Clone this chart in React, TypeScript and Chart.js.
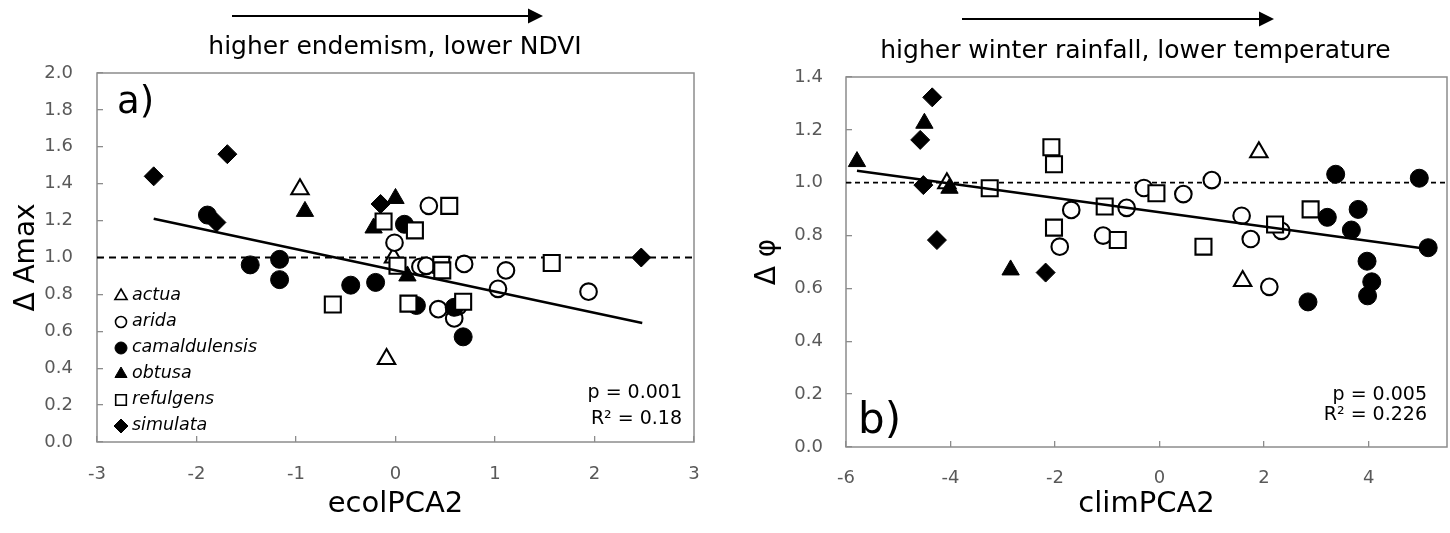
import React, { useEffect, useRef } from "react";
import { Chart, registerables } from "chart.js";

Chart.register(...registerables);

const FONT = '"DejaVu Sans", "Liberation Sans", Arial, sans-serif';

// ---------------- shared ----------------
const speciesNames = ["actua", "arida", "camaldulensis", "obtusa", "refulgens", "simulata"];

// ---------------- panel a ----------------
const aXTicks = [-3, -2, -1, 0, 1, 2, 3];
const aYTicks = [0, 0.2, 0.4, 0.6, 0.8, 1.0, 1.2, 1.4, 1.6, 1.8, 2.0];
const aActuaX = [-0.96, -0.02, -0.09];
const aActuaY = [1.37, 1.0, 0.45];
const aAridaX = [-0.01, 0.335, 0.25, 0.31, 0.69, 1.11, 1.03, 1.94, 0.43, 0.59, 0.63];
const aAridaY = [1.08, 1.28, 0.95, 0.955, 0.965, 0.93, 0.83, 0.815, 0.72, 0.67, 0.735];
const aCamX = [-1.89, -1.46, -1.165, -1.165, -0.45, -0.2, 0.09, 0.21, 0.59, 0.68];
const aCamY = [1.23, 0.96, 0.99, 0.88, 0.85, 0.865, 1.18, 0.74, 0.73, 0.57];
const aObtX = [-0.91, 0.0, -0.22, 0.12];
const aObtY = [1.25, 1.32, 1.16, 0.9];
const aRefX = [-0.12, 0.195, 0.54, 0.02, 0.46, 0.47, 1.57, 0.13, 0.68, -0.63];
const aRefY = [1.195, 1.147, 1.28, 0.955, 0.96, 0.93, 0.97, 0.75, 0.76, 0.745];
const aSimX = [-2.43, -1.69, -1.8, -0.15, 2.47];
const aSimY = [1.44, 1.56, 1.19, 1.29, 1.0];
const aTrendX = [-2.43, 2.48];
const aTrendY = [1.21, 0.645];
const aStats = ["p = 0.001", "R\u00B2 = 0.18"];

// ---------------- panel b ----------------
const bXTicks = [-6, -4, -2, 0, 2, 4];
const bYTicks = [0, 0.2, 0.4, 0.6, 0.8, 1.0, 1.2, 1.4];
const bActuaX = [-4.07, 1.9, 1.59];
const bActuaY = [0.998, 1.115, 0.628];
const bAridaX = [-1.69, -1.91, -1.08, -0.63, -0.3, 0.455, 1.0, 1.57, 1.745, 2.33, 2.1];
const bAridaY = [0.897, 0.758, 0.8, 0.905, 0.98, 0.957, 1.01, 0.875, 0.787, 0.818, 0.606];
const bCamX = [3.37, 4.97, 3.21, 3.8, 3.67, 5.14, 3.97, 4.06, 3.98, 2.84];
const bCamY = [1.032, 1.017, 0.869, 0.899, 0.821, 0.754, 0.703, 0.625, 0.572, 0.549];
const bObtX = [-5.79, -4.5, -4.02, -2.85];
const bObtY = [1.08, 1.225, 0.979, 0.67];
const bRefX = [-3.25, -2.07, -2.02, -2.02, -1.05, -0.8, -0.06, 0.84, 2.21, 2.89];
const bRefY = [0.979, 1.134, 1.07, 0.83, 0.91, 0.783, 0.96, 0.758, 0.842, 0.899];
const bSimX = [-4.35, -4.58, -4.52, -4.26, -2.18];
const bSimY = [1.323, 1.162, 0.991, 0.783, 0.66];
const bTrendX = [-5.79, 5.13];
const bTrendY = [1.045, 0.749];
const bStats = ["p = 0.005", "R\u00B2 = 0.226"];

// ---------------- styles ----------------
type Marker = { shape: string; filled: boolean; r: number; lr: number };
const markerStyle: Record<string, Marker> = {
  actua: { shape: "triangle", filled: false, r: 10, lr: 7 },
  arida: { shape: "circle", filled: false, r: 8.3, lr: 5.5 },
  camaldulensis: { shape: "circle", filled: true, r: 9, lr: 6 },
  obtusa: { shape: "triangle", filled: true, r: 10, lr: 7 },
  refulgens: { shape: "rect", filled: false, r: 11.3, lr: 7.5 },
  simulata: { shape: "rectRot", filled: true, r: 9.5, lr: 7 },
};

type Series = { name: string; xs: number[]; ys: number[] };
type PanelCfg = {
  left: number;
  series: Series[];
  trendX: number[];
  trendY: number[];
  refY: number;
  refDash: number[];
  refWidth: number;
  xMin: number;
  xMax: number;
  xTicks: number[];
  yMin: number;
  yMax: number;
  yTicks: number[];
  xTitle: string;
  yTitle: string;
  header: string;
  label: string;
  stats: string[];
  showLegend: boolean;
  lay: {
    padTop: number;
    padRight: number;
    yAxisW: number;
    xAxisH: number;
    yTickPad: number;
    xTickPad: number;
    yTitlePad: number;
    xTitlePad: number;
    arrowX1: number;
    arrowX2: number;
    arrowY: number;
    headerX: number;
    headerY: number;
    labelX: number;
    labelY: number;
    labelSize: number;
    statsX: number;
    statsY: number[];
    legendX: number;
    legendY: number;
    legendStep: number;
  };
};

function drawShape(ctx: CanvasRenderingContext2D, shape: string, x: number, y: number, r: number, filled: boolean) {
  ctx.beginPath();
  if (shape === "circle") {
    ctx.arc(x, y, r, 0, Math.PI * 2);
  } else if (shape === "triangle") {
    ctx.moveTo(x, y - r);
    ctx.lineTo(x + r * 0.866, y + r * 0.5);
    ctx.lineTo(x - r * 0.866, y + r * 0.5);
    ctx.closePath();
  } else if (shape === "rect") {
    const s = r * Math.SQRT1_2;
    ctx.rect(x - s, y - s, 2 * s, 2 * s);
  } else {
    ctx.moveTo(x, y - r);
    ctx.lineTo(x + r, y);
    ctx.lineTo(x, y + r);
    ctx.lineTo(x - r, y);
    ctx.closePath();
  }
  ctx.fillStyle = filled ? "#000" : "#fff";
  ctx.fill();
  ctx.lineWidth = filled ? 1 : 1.6;
  ctx.strokeStyle = "#000";
  ctx.stroke();
}

function makePlugin(cfg: PanelCfg) {
  const L = cfg.lay;
  return {
    id: "panelDecor",
    beforeDatasetsDraw(chart: any) {
      const { ctx, chartArea } = chart;
      ctx.save();
      ctx.strokeStyle = "#8c8c8c";
      ctx.lineWidth = 1.5;
      ctx.strokeRect(chartArea.left, chartArea.top, chartArea.right - chartArea.left, chartArea.bottom - chartArea.top);
      ctx.restore();
    },
    afterDraw(chart: any) {
      const ctx: CanvasRenderingContext2D = chart.ctx;
      ctx.save();
      // header arrow
      ctx.strokeStyle = "#000";
      ctx.fillStyle = "#000";
      ctx.lineWidth = 2;
      ctx.beginPath();
      ctx.moveTo(L.arrowX1, L.arrowY);
      ctx.lineTo(L.arrowX2 - 12, L.arrowY);
      ctx.stroke();
      ctx.beginPath();
      ctx.moveTo(L.arrowX2 - 15, L.arrowY - 7.5);
      ctx.lineTo(L.arrowX2, L.arrowY);
      ctx.lineTo(L.arrowX2 - 15, L.arrowY + 7.5);
      ctx.closePath();
      ctx.fill();
      // header text
      ctx.font = `25px ${FONT}`;
      ctx.textAlign = "center";
      ctx.textBaseline = "alphabetic";
      ctx.fillText(cfg.header, L.headerX, L.headerY);
      // panel label
      ctx.font = `${L.labelSize}px ${FONT}`;
      ctx.textAlign = "left";
      ctx.fillText(cfg.label, L.labelX, L.labelY);
      // stats
      ctx.font = `19px ${FONT}`;
      ctx.textAlign = "right";
      cfg.stats.forEach((s, i) => ctx.fillText(s, L.statsX, L.statsY[i]));
      // legend
      if (cfg.showLegend) {
        ctx.font = `italic 17.5px ${FONT}`;
        ctx.textAlign = "left";
        ctx.textBaseline = "middle";
        cfg.series.forEach((s, i) => {
          const m = markerStyle[s.name];
          const y = L.legendY + i * L.legendStep;
          drawShape(ctx, m.shape, L.legendX, y + 1, m.lr, m.filled);
          ctx.fillStyle = "#000";
          ctx.fillText(s.name, L.legendX + 11, y);
        });
      }
      ctx.restore();
    },
  };
}

function buildConfig(cfg: PanelCfg): any {
  const L = cfg.lay;
  const n = cfg.series.length;
  const pointSets = cfg.series.map((s, i) => {
    const m = markerStyle[s.name];
    return {
      label: s.name,
      data: s.xs.map((x, j) => ({ x, y: s.ys[j] })),
      pointStyle: m.shape,
      pointRadius: m.r,
      pointBackgroundColor: m.filled ? "#000" : "#fff",
      pointBorderColor: "#000",
      pointBorderWidth: m.filled ? 1 : 2.1,
      showLine: false,
      clip: false,
      order: n - i + 1,
    };
  });
  const trend = {
    label: "trend",
    data: cfg.trendX.map((x, j) => ({ x, y: cfg.trendY[j] })),
    showLine: true,
    pointRadius: 0,
    borderColor: "#000",
    borderWidth: 2.5,
    order: 0,
  };
  const ref = {
    label: "ref",
    data: [
      { x: cfg.xMin, y: cfg.refY },
      { x: cfg.xMax, y: cfg.refY },
    ],
    showLine: true,
    pointRadius: 0,
    borderColor: "#000",
    borderWidth: cfg.refWidth,
    borderDash: cfg.refDash,
    order: 50,
  };
  const tickFont = { family: FONT, size: 18 };
  return {
    type: "scatter",
    data: { datasets: [...pointSets, trend, ref] },
    options: {
      animation: false,
      responsive: false,
      maintainAspectRatio: false,
      events: [],
      layout: { autoPadding: false, padding: { top: L.padTop, right: L.padRight, left: 0, bottom: 0 } },
      plugins: { legend: { display: false }, tooltip: { enabled: false }, title: { display: false } },
      scales: {
        x: {
          type: "linear",
          min: cfg.xMin,
          max: cfg.xMax,
          afterBuildTicks: (s: any) => {
            s.ticks = cfg.xTicks.map((v) => ({ value: v }));
          },
          afterFit: (s: any) => {
            s.height = L.xAxisH;
            s.paddingLeft = 0;
            s.paddingRight = 0;
          },
          grid: { display: true, drawOnChartArea: false, drawTicks: true, tickLength: -6, color: "#8c8c8c", lineWidth: 1.3 },
          border: { display: false },
          ticks: { padding: L.xTickPad, font: tickFont, color: "#595959", maxRotation: 0, callback: (v: any) => String(v) },
          title: { display: true, text: cfg.xTitle, color: "#000", font: { family: FONT, size: 29 }, padding: { top: 0, bottom: L.xTitlePad } },
        },
        y: {
          type: "linear",
          min: cfg.yMin,
          max: cfg.yMax,
          afterBuildTicks: (s: any) => {
            s.ticks = cfg.yTicks.map((v) => ({ value: v }));
          },
          afterFit: (s: any) => {
            s.width = L.yAxisW;
            s.paddingTop = 0;
            s.paddingBottom = 0;
          },
          grid: { display: true, drawOnChartArea: false, drawTicks: true, tickLength: -6, color: "#8c8c8c", lineWidth: 1.3 },
          border: { display: false },
          ticks: { padding: L.yTickPad, font: tickFont, color: "#595959", callback: (v: any) => Number(v).toFixed(1) },
          title: { display: true, text: cfg.yTitle, color: "#000", font: { family: FONT, size: 28 }, padding: { top: L.yTitlePad, bottom: 0 } },
        },
      },
    },
    plugins: [makePlugin(cfg)],
  };
}

const panelA: PanelCfg = {
  left: 0,
  series: [
    { name: speciesNames[0], xs: aActuaX, ys: aActuaY },
    { name: speciesNames[1], xs: aAridaX, ys: aAridaY },
    { name: speciesNames[2], xs: aCamX, ys: aCamY },
    { name: speciesNames[3], xs: aObtX, ys: aObtY },
    { name: speciesNames[4], xs: aRefX, ys: aRefY },
    { name: speciesNames[5], xs: aSimX, ys: aSimY },
  ],
  trendX: aTrendX,
  trendY: aTrendY,
  refY: 1.0,
  refDash: [7, 5],
  refWidth: 2.2,
  xMin: -3,
  xMax: 3,
  xTicks: aXTicks,
  yMin: 0,
  yMax: 2,
  yTicks: aYTicks,
  xTitle: "ecolPCA2",
  yTitle: "\u0394 Amax",
  header: "higher endemism, lower NDVI",
  label: "a)",
  stats: aStats,
  showLegend: true,
  lay: {
    padTop: 73,
    padRight: 31,
    yAxisW: 97,
    xAxisH: 91,
    yTickPad: 30,
    xTickPad: 27.5,
    yTitlePad: 10,
    xTitlePad: 11,
    arrowX1: 232,
    arrowX2: 543,
    arrowY: 16,
    headerX: 395,
    headerY: 54,
    labelX: 117,
    labelY: 113,
    labelSize: 37,
    statsX: 682,
    statsY: [398, 424],
    legendX: 121,
    legendY: 295,
    legendStep: 26,
  },
};

const panelB: PanelCfg = {
  left: 725,
  series: [
    { name: speciesNames[0], xs: bActuaX, ys: bActuaY },
    { name: speciesNames[1], xs: bAridaX, ys: bAridaY },
    { name: speciesNames[2], xs: bCamX, ys: bCamY },
    { name: speciesNames[3], xs: bObtX, ys: bObtY },
    { name: speciesNames[4], xs: bRefX, ys: bRefY },
    { name: speciesNames[5], xs: bSimX, ys: bSimY },
  ],
  trendX: bTrendX,
  trendY: bTrendY,
  refY: 1.0,
  refDash: [5, 4],
  refWidth: 1.8,
  xMin: -6,
  xMax: 5.5,
  xTicks: bXTicks,
  yMin: 0,
  yMax: 1.4,
  yTicks: bYTicks,
  xTitle: "climPCA2",
  yTitle: "\u0394 \u03C6",
  header: "higher winter rainfall, lower temperature",
  label: "b)",
  stats: bStats,
  showLegend: false,
  lay: {
    padTop: 77,
    padRight: 3,
    yAxisW: 121,
    xAxisH: 86,
    yTickPad: 29,
    xTickPad: 26.5,
    yTitlePad: 26,
    xTitlePad: 11,
    arrowX1: 237,
    arrowX2: 549,
    arrowY: 19,
    headerX: 410.5,
    headerY: 58,
    labelX: 133,
    labelY: 433,
    labelSize: 42,
    statsX: 702,
    statsY: [400, 420],
    legendX: 0,
    legendY: 0,
    legendStep: 0,
  },
};

function Panel({ cfg }: { cfg: PanelCfg }) {
  const ref = useRef<HTMLCanvasElement | null>(null);
  useEffect(() => {
    if (!ref.current) return;
    const chart = new Chart(ref.current, buildConfig(cfg));
    return () => chart.destroy();
  }, [cfg]);
  return (
    <canvas
      ref={ref}
      width={725}
      height={533}
      style={{ position: "absolute", left: cfg.left, top: 0, width: 725, height: 533 }}
    />
  );
}

export default function App() {
  return (
    <div style={{ position: "absolute", left: 0, top: 0, width: 1450, height: 533, background: "#fff" }}>
      <Panel cfg={panelA} />
      <Panel cfg={panelB} />
    </div>
  );
}
